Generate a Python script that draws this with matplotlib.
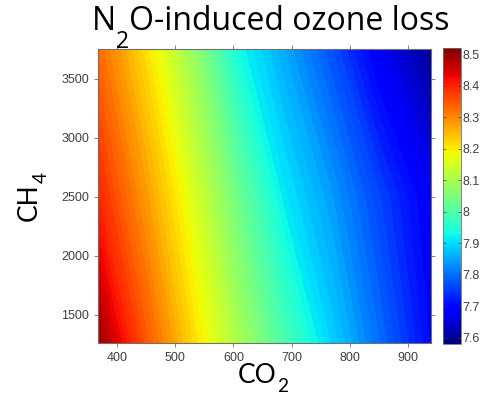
import numpy as np
import matplotlib
matplotlib.use("Agg")
import matplotlib.pyplot as plt
from matplotlib.colors import Normalize
from matplotlib.cm import ScalarMappable

# CO2 (ppm) grid columns and CH4 (ppb) grid rows
co2 = [366, 450, 530, 610, 690, 770, 850, 940]
ch4 = [1250, 2500, 3760]

# N2O-induced ozone loss (one list per CH4 row)
loss_ch4_1250 = [8.50, 8.35, 8.22, 8.10, 7.99, 7.89, 7.80, 7.70]
loss_ch4_2500 = [8.40, 8.28, 8.16, 8.03, 7.91, 7.84, 7.76, 7.68]
loss_ch4_3750 = [8.33, 8.21, 8.08, 7.93, 7.85, 7.77, 7.68, 7.60]

cbar_ticks = [7.6, 7.7, 7.8, 7.9, 8.0, 8.1, 8.2, 8.3, 8.4, 8.5]
vmin, vmax = 7.58, 8.52

W, H = 490, 395

Z = np.array([loss_ch4_1250, loss_ch4_2500, loss_ch4_3750])
X, Y = np.meshgrid(co2, ch4)

fig = plt.figure(figsize=(W / 100, H / 100), dpi=100)
ax = fig.add_axes([98 / W, 1 - 343 / H, 333 / W, 294 / H])

levels = np.linspace(vmin, vmax, 70)
ax.contourf(X, Y, Z, levels=levels, cmap='jet', vmin=vmin, vmax=vmax)
ax.set_xlim(367, 940)
ax.set_ylim(1262, 3752)
ax.set_xticks([400, 500, 600, 700, 800, 900])
ax.set_yticks([1500, 2000, 2500, 3000, 3500])

tick_col = '#404040'
for s in ax.spines.values():
    s.set_color('#707070')
    s.set_linewidth(0.8)
ax.tick_params(direction='out', length=3, width=0.6, color='#707070',
               labelsize=9, labelcolor=tick_col, top=True, right=True,
               labeltop=False, labelright=False)
for lab in ax.get_xticklabels() + ax.get_yticklabels():
    lab.set_fontfamily('Liberation Sans')

# colorbar
cax = fig.add_axes([443 / W, 1 - 344 / H, 18 / W, 296 / H])
sm = ScalarMappable(norm=Normalize(vmin, vmax), cmap='jet')
cb = fig.colorbar(sm, cax=cax, ticks=cbar_ticks)
cb.ax.set_yticklabels(['%g' % t for t in cbar_ticks])
cb.outline.set_edgecolor('#707070')
cb.outline.set_linewidth(0.6)
cb.ax.tick_params(direction='in', length=2, width=0.5, color='#404040',
                  labelsize=9, labelcolor=tick_col, pad=1, left=True)
for lab in cb.ax.get_yticklabels():
    lab.set_fontfamily('Liberation Sans')


# text with a low-hanging subscript, placed piece by piece (pixel coords from top-left)
def sub_label(parts, x, y, size, family, drop, vertical=False):
    r = fig.canvas.get_renderer()
    pos = y if vertical else x
    for s, is_sub in parts:
        fs = size * 0.72 if is_sub else size
        off = drop if is_sub else 0
        if vertical:
            t = fig.text((x + off) / W, 1 - pos / H, s, fontsize=fs, family=family,
                         rotation=90, rotation_mode='anchor', ha='left', va='baseline')
            pos -= t.get_window_extent(r).height
        else:
            t = fig.text(pos / W, 1 - (y + off) / H, s, fontsize=fs, family=family,
                         ha='left', va='baseline')
            pos += t.get_window_extent(r).width


sub_label([('N', False), ('2', True), ('O-induced ozone loss', False)],
          92, 30, 23, 'Open Sans', 18)
sub_label([('CO', False), ('2', True)], 238, 383, 19, 'Lato', 9)
sub_label([('CH', False), ('4', True)], 37, 221, 19, 'Lato', 10, vertical=True)

fig.savefig('out.png', dpi=100)
